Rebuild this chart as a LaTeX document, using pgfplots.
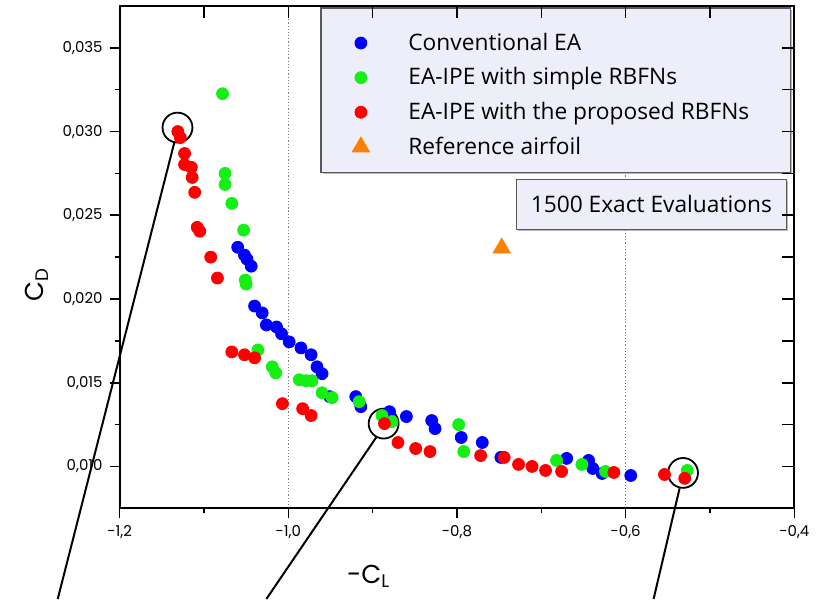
\documentclass[border=0pt]{standalone}
\usepackage{pgfplots}
\pgfplotsset{compat=1.18}
\usepackage{fontspec}
\setmainfont{Open Sans}
\newfontfamily\geo{Poppins}
\usetikzlibrary{shadows}
\definecolor{cblue}{RGB}{0,0,255}
\definecolor{cgreen}{RGB}{20,240,20}
\definecolor{cred}{RGB}{255,0,0}
\definecolor{corange}{RGB}{255,128,0}
\definecolor{boxfill}{RGB}{238,238,250}
\begin{document}
\begin{tikzpicture}
\begin{axis}[
  scale only axis, width=338.5pt, height=252pt,
  xmin=-1.2, xmax=-0.4, ymin=0.0075, ymax=0.0375,
  clip=false,
  axis line style={line width=1pt},
  tick style={line width=0.8pt, black},
  tick align=outside, tick pos=left,
  major tick length=5pt, minor tick length=2.5pt,
  xtick={-1.2,-1.0,-0.8,-0.6,-0.4},
  xticklabels={{-1,2},{-1,0},{-0,8},{-0,6},{-0,4}},
  minor xtick={-1.1,-0.9,-0.7,-0.5},
  ytick={0.010,0.015,0.020,0.025,0.030,0.035},
  yticklabels={{0,010},{0,015},{0,020},{0,025},{0,030},{0,035}},
  minor ytick={0.0125,0.0175,0.0225,0.0275,0.0325},
  scaled y ticks=false, scaled x ticks=false,
  ticklabel style={font=\geo\fontsize{7.5}{9}\selectfont},
  legend image code/.code={\draw[mark repeat=2,mark phase=2,#1] plot coordinates {(0pt,0pt)(6pt,0pt)(12pt,0pt)};},
  legend style={at={(rel axis cs:0.2984,0.996)}, anchor=north west,
    draw=none, fill=none, font=\fontsize{11.4}{13}\selectfont,
    inner xsep=15.5pt, inner ysep=10.3pt, row sep=3.2pt, column sep=17.5pt,
    cells={anchor=west}},
]
\draw[densely dotted, gray, line width=0.6pt] (axis cs:-1.0,0.0075) -- (axis cs:-1.0,0.0375);
\draw[densely dotted, gray, line width=0.6pt] (axis cs:-0.6,0.0075) -- (axis cs:-0.6,0.0375);

\addplot[only marks, mark=*, mark size=3pt, color=cblue, mark options={draw=none, fill=cblue}] coordinates {
(-1.060,0.02309) (-1.052,0.02262) (-1.049,0.02238) (-1.044,0.02196)
(-1.040,0.01958) (-1.031,0.01917) (-1.026,0.01845) (-1.014,0.01833)
(-1.008,0.01792) (-0.999,0.01744) (-0.985,0.01708) (-0.973,0.01667)
(-0.966,0.01595) (-0.960,0.01554) (-0.951,0.01417) (-0.920,0.01417)
(-0.914,0.01357) (-0.880,0.01327) (-0.860,0.01298) (-0.830,0.01274)
(-0.826,0.01226) (-0.795,0.01173) (-0.770,0.01143) (-0.748,0.01054)
(-0.670,0.01048) (-0.644,0.01036) (-0.639,0.00988) (-0.628,0.00958)
(-0.594,0.00946)
};
\addlegendentry{Conventional EA}

\addplot[only marks, mark=*, mark size=3pt, color=cgreen, mark options={draw=none, fill=cgreen}] coordinates {
(-1.078,0.03226) (-1.075,0.02750) (-1.075,0.02684) (-1.067,0.02571)
(-1.053,0.02411) (-1.051,0.02113) (-1.050,0.02089) (-1.036,0.01696)
(-1.019,0.01595) (-1.015,0.01559) (-0.987,0.01518) (-0.979,0.01512)
(-0.972,0.01512) (-0.960,0.01440) (-0.948,0.01411) (-0.916,0.01387)
(-0.889,0.01304) (-0.877,0.01268) (-0.798,0.01250) (-0.792,0.01089)
(-0.682,0.01036) (-0.652,0.01012) (-0.624,0.00970) (-0.527,0.00976)
};
\addlegendentry{EA-IPE with simple RBFNs}

\addplot[only marks, mark=*, mark size=3pt, color=cred, mark options={draw=none, fill=cred}] coordinates {
(-1.131,0.03000) (-1.128,0.02964) (-1.123,0.02869) (-1.123,0.02803)
(-1.115,0.02786) (-1.114,0.02726) (-1.111,0.02637) (-1.108,0.02428)
(-1.105,0.02405) (-1.092,0.02250) (-1.084,0.02125) (-1.067,0.01684)
(-1.052,0.01667) (-1.040,0.01649) (-1.007,0.01375) (-0.983,0.01345)
(-0.973,0.01304) (-0.886,0.01256) (-0.870,0.01143) (-0.849,0.01107)
(-0.832,0.01089) (-0.772,0.01065) (-0.744,0.01054) (-0.727,0.01012)
(-0.711,0.01000) (-0.695,0.00976) (-0.676,0.00970) (-0.614,0.00964)
(-0.554,0.00952) (-0.530,0.00929)
};
\addlegendentry{EA-IPE with the proposed RBFNs}

\addplot[only marks, mark=triangle*, mark size=5pt, color=corange, mark options={draw=none, fill=corange}] coordinates {
(-0.747,0.02304)
};
\addlegendentry{Reference airfoil}

% legend frame
\draw[draw=black!65, fill=boxfill, line width=0.7pt, drop shadow={shadow xshift=1pt, shadow yshift=-1pt, fill=black!55}]
  (rel axis cs:0.2984,0.6687) rectangle (rel axis cs:0.9941,0.996);
\node[draw=black!65, fill=boxfill, line width=0.7pt, minimum width=135.5pt, minimum height=25pt, inner sep=0pt,
  font=\fontsize{11.4}{13}\selectfont, drop shadow={shadow xshift=1pt, shadow yshift=-1pt, fill=black!55}]
  at (rel axis cs:0.788,0.605) {1500 Exact Evaluations};

% annotations
\draw[line width=0.9pt] (axis cs:-1.1314,0.030237) circle[radius=7.5pt];
\draw[line width=0.9pt] (axis cs:-0.8870,0.012559) circle[radius=7.5pt];
\draw[line width=0.9pt] (axis cs:-0.5320,0.009613) circle[radius=7.5pt];
\draw[line width=1pt] (axis cs:-1.1349,0.02940) -- (axis cs:-1.2734,0.002084);
\draw[line width=1pt] (axis cs:-0.8959,0.011726) -- (axis cs:-1.0260,0.002084);
\draw[line width=1pt] (axis cs:-0.5361,0.008691) -- (axis cs:-0.5669,0.002084);

% axis labels
\node[font=\geo\fontsize{13}{13}\selectfont, rotate=90] at (rel axis cs:-0.1226,0.446) {C\textsubscript{D}};
\node[font=\geo\fontsize{13}{13}\selectfont] at (rel axis cs:0.369,-0.135) {-C\textsubscript{L}};

% page extent
\path (rel axis cs:-0.1773,-0.1806) rectangle (rel axis cs:1.0281,1.0119);
\end{axis}
\begin{axis}[
  overlay,
  scale only axis, width=338.5pt, height=252pt,
  xmin=-1.2, xmax=-0.4, ymin=0.0075, ymax=0.0375,
  axis line style={line width=1pt},
  tick style={line width=0.8pt, black},
  tick align=inside, tick pos=right,
  major tick length=6pt, minor tick length=6pt,
  xtick={-1.2,-1.0,-0.8,-0.6,-0.4}, minor xtick={-1.1,-0.9,-0.7,-0.5},
  ytick={0.010,0.015,0.020,0.025,0.030,0.035},
  minor ytick={0.0125,0.0175,0.0225,0.0275,0.0325},
  xticklabels={}, yticklabels={},
  scaled y ticks=false, scaled x ticks=false,
]
\end{axis}
\end{tikzpicture}
\end{document}
